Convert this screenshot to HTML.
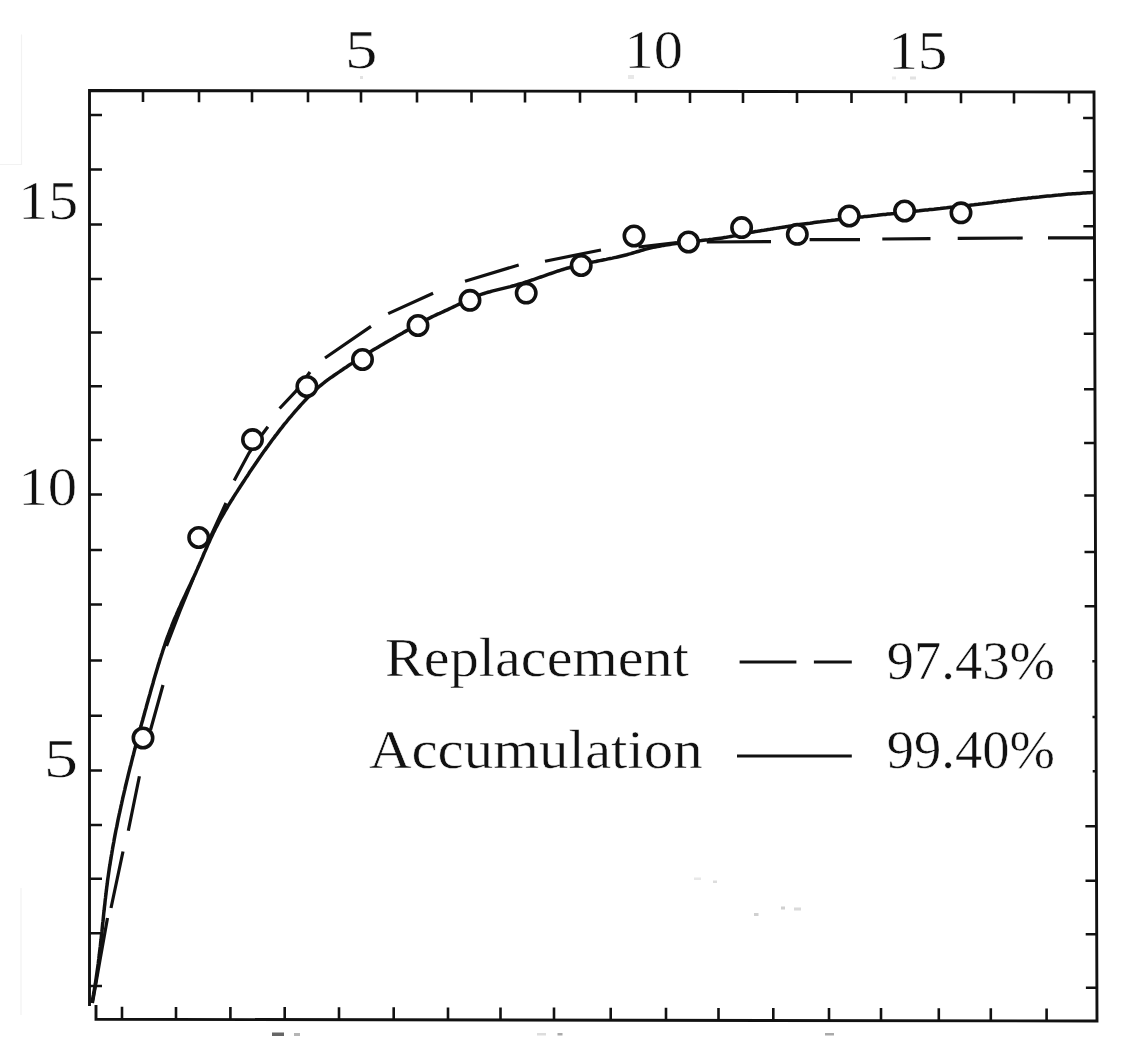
<!DOCTYPE html>
<html><head><meta charset="utf-8"><style>
html,body{margin:0;padding:0;background:#fff;}
svg{display:block;filter:blur(0.6px);}
text{font-family:"Liberation Serif",serif;fill:#111;stroke:#fff;stroke-width:0.5px;}
</style></head><body>
<svg width="1121" height="1040" viewBox="0 0 1121 1040">
<g fill="none" stroke="#111" stroke-width="2.9" stroke-linecap="butt">
<path d="M89.5,1006 V90.5 L1094,92 L1097,1021 L96,1019.3 V1005"/>
<path stroke-width="2.6" d="M143,90.6V102.1 M199,90.7V102.2 M252,90.7V102.2 M308,90.8V102.3 M361,90.9V102.4 M417,91.0V102.5 M471.5,91.1V102.6 M525,91.1V102.6 M580,91.2V102.7 M636,91.3V102.8 M690,91.4V102.9 M743,91.5V103.0 M797,91.6V103.1 M851.5,91.6V103.1 M906,91.7V103.2 M961,91.8V103.3 M1014,91.9V103.4 M1069,92.0V103.5 M122,1019.3V1006.8 M176,1019.4V1006.9 M230.4,1019.5V1007.0 M284.7,1019.6V1007.1 M339,1019.7V1007.2 M393.7,1019.8V1007.3 M448,1019.9V1007.4 M500.5,1020.0V1007.5 M554,1020.1V1007.6 M610.7,1020.2V1007.7 M666,1020.3V1007.8 M718.5,1020.4V1007.9 M773.3,1020.4V1007.9 M829,1020.5V1008.0 M881,1020.6V1008.1 M938.8,1020.7V1008.2 M990.8,1020.8V1008.3 M1046.6,1020.9V1008.4 M89.5,115H102 M89.5,169.5H102 M89.5,224.5H102 M89.5,279H102 M89.5,332.5H102 M89.5,386.25H102 M89.5,440H102 M89.5,494.5H102 M89.5,550H102 M89.5,604.5H102 M89.5,660.5H102 M89.5,715.75H102 M89.5,770.5H102 M89.5,825H102 M89.5,878.8H102 M89.5,933.2H102 M89.5,986H102 M1094.1,118H1083.1 M1094.3,171.25H1083.3 M1094.4,226.25H1083.4 M1094.6,280H1083.6 M1094.8,333.75H1083.8 M1095.0,389.25H1084.0 M1095.1,443H1084.1 M1095.3,495.5H1084.3 M1095.5,552H1084.5 M1095.7,606.25H1084.7 M1095.8,661.25H1092.3 M1096.0,717H1092.5 M1096.2,771.25H1092.7 M1096.4,826.25H1085.4 M1096.5,880.7H1085.5 M1096.7,934.2H1085.7 M1096.9,987.8H1085.9"/>
</g>
<g fill="none" stroke="#111" stroke-width="3.5">
<path d="M91.9,1003.0 L92.3,1000.9 L92.7,998.8 L93.1,996.7 L93.5,994.6 L93.8,992.6 L94.2,990.5 L94.6,988.4 L94.9,986.3 L95.3,984.2 L95.6,982.1 L95.9,980.0 L96.2,977.9 L96.5,975.8 L96.8,973.7 L97.1,971.6 L97.4,969.5 L97.7,967.4 L98.0,965.3 L98.3,963.2 L98.5,961.1 L98.8,959.0 L99.0,956.9 L99.3,954.8 L99.5,952.7 L99.8,950.6 L100.0,948.5 L100.3,946.4 L100.5,944.3 L100.7,942.2 L101.0,940.1 L101.2,938.0 L101.4,935.9 L101.6,933.8 L101.9,931.7 L102.1,929.6 L102.3,927.5 L102.5,925.4 L102.7,923.3 L103.0,921.2 L103.2,919.1 L103.4,917.0 L103.6,914.8 L103.8,912.7 L104.1,910.6 L104.3,908.5 L104.5,906.4 L104.8,904.3 L105.0,902.2 L105.2,900.1 L105.5,898.0 L105.7,895.9 L106.0,893.8 L106.2,891.7 L106.5,889.6 L106.7,887.5 L107.0,885.4 L107.3,883.3 L107.5,881.2 L107.8,879.1 L108.1,877.0 L108.4,874.9 L108.7,872.8 L109.0,870.7 L109.3,868.6 L109.6,866.5 L110.0,864.4 L110.3,862.3 L110.6,860.3 L111.0,858.2 L111.3,856.1 L111.7,854.0 L112.0,851.9 L112.4,849.8 L112.7,847.7 L113.1,845.6 L113.5,843.5 L113.9,841.5 L114.2,839.4 L114.6,837.3 L115.0,835.2 L115.4,833.1 L115.8,831.0 L116.2,829.0 L116.7,826.9 L117.1,824.8 L117.5,822.7 L117.9,820.6 L118.3,818.6 L118.8,816.5 L119.2,814.4 L119.7,812.4 L120.1,810.3 L120.6,808.2 L121.0,806.1 L121.5,804.1 L121.9,802.0 L122.4,799.9 L122.8,797.9 L123.3,795.8 L123.8,793.8 L124.3,791.7 L124.8,789.6 L125.2,787.6 L125.7,785.5 L126.2,783.5 L126.7,781.4 L127.2,779.3 L127.7,777.3 L128.2,775.2 L128.7,773.2 L129.2,771.1 L129.7,769.1 L130.2,767.0 L130.8,765.0 L131.3,762.9 L131.8,760.9 L132.3,758.8 L132.8,756.8 L133.4,754.7 L133.9,752.7 L134.4,750.6 L135.0,748.6 L135.5,746.5 L136.0,744.5 L136.6,742.4 L137.1,740.4 L137.7,738.4 L138.2,736.3 L138.8,734.3 L139.3,732.2 L139.9,730.2 L140.4,728.1 L141.0,726.1 L141.5,724.1 L142.1,722.0 L142.7,720.0 L143.2,717.9 L143.8,715.9 L144.4,713.8 L144.9,711.8 L145.5,709.8 L146.1,707.7 L146.6,705.7 L147.2,703.6 L147.8,701.6 L148.3,699.5 L148.9,697.5 L149.5,695.5 L150.1,693.4 L150.6,691.4 L151.2,689.3 L151.8,687.3 L152.4,685.3 L153.0,683.2 L153.5,681.2 L154.1,679.1 L154.7,677.1 L155.3,675.1 L155.9,673.0 L156.5,671.0 L157.1,669.0 L157.7,666.9 L158.3,664.9 L159.0,662.9 L159.6,660.8 L160.2,658.8 L160.9,656.8 L161.5,654.8 L162.2,652.8 L162.8,650.7 L163.5,648.7 L164.2,646.7 L164.8,644.7 L165.5,642.7 L166.2,640.7 L166.9,638.7 L167.6,636.7 L168.4,634.7 L169.1,632.8 L169.8,630.8 L170.6,628.8 L171.4,626.8 L172.1,624.9 L172.9,622.9 L173.7,621.0 L174.5,619.0 L175.3,617.1 L176.2,615.1 L177.0,613.2 L177.9,611.2 L178.7,609.3 L179.6,607.4 L180.5,605.5 L181.3,603.5 L182.2,601.6 L183.1,599.7 L184.0,597.8 L184.9,595.9 L185.8,593.9 L186.7,592.0 L187.6,590.1 L188.5,588.2 L189.4,586.3 L190.3,584.4 L191.2,582.4 L192.1,580.5 L193.0,578.6 L193.9,576.7 L194.8,574.7 L195.7,572.8 L196.5,570.9 L197.4,568.9 L198.2,567.0 L199.1,565.0 L199.9,563.1 L200.8,561.1 L201.6,559.2 L202.5,557.2 L203.3,555.3 L204.1,553.3 L205.0,551.4 L205.8,549.5 L206.7,547.5 L207.5,545.6 L208.4,543.6 L209.3,541.7 L210.1,539.8 L211.0,537.8 L211.9,535.9 L212.8,534.0 L213.7,532.1 L214.7,530.2 L215.6,528.3 L216.6,526.4 L217.5,524.6 L218.5,522.7 L219.5,520.8 L220.5,519.0 L221.6,517.1 L222.6,515.3 L223.7,513.5 L224.7,511.7 L225.8,509.8 L226.9,508.0 L227.9,506.2 L229.0,504.4 L230.1,502.6 L231.2,500.8 L232.4,499.0 L233.5,497.2 L234.6,495.4 L235.7,493.6 L236.9,491.9 L238.0,490.1 L239.2,488.3 L240.3,486.5 L241.5,484.7 L242.6,483.0 L243.8,481.2 L245.0,479.4 L246.1,477.6 L247.3,475.9 L248.5,474.1 L249.6,472.3 L250.8,470.6 L252.0,468.8 L253.2,467.1 L254.4,465.3 L255.6,463.5 L256.8,461.8 L258.0,460.0 L259.2,458.3 L260.4,456.6 L261.6,454.8 L262.8,453.1 L264.0,451.3 L265.3,449.6 L266.5,447.9 L267.8,446.2 L269.0,444.5 L270.3,442.7 L271.5,441.0 L272.8,439.3 L274.1,437.6 L275.3,435.9 L276.6,434.3 L277.9,432.6 L279.2,430.9 L280.5,429.2 L281.8,427.6 L283.1,425.9 L284.4,424.2 L285.8,422.6 L287.1,421.0 L288.4,419.3 L289.8,417.7 L291.2,416.1 L292.5,414.5 L293.9,412.8 L295.3,411.2 L296.7,409.7 L298.1,408.1 L299.5,406.5 L300.9,404.9 L302.3,403.4 L303.7,401.8 L305.2,400.2 L306.6,398.7 L308.1,397.2 L309.6,395.7 L311.0,394.2 L312.6,392.7 L314.1,391.2 L315.6,389.8 L317.2,388.4 L318.7,387.0 L320.4,385.6 L322.0,384.3 L323.6,383.0 L325.3,381.7 L327.0,380.4 L328.7,379.2 L330.4,377.9 L332.2,376.7 L333.9,375.5 L335.7,374.3 L337.4,373.1 L339.2,371.9 L340.9,370.7 L342.7,369.5 L344.4,368.3 L346.2,367.2 L347.9,366.0 L349.7,364.8 L351.5,363.6 L353.2,362.4 L355.0,361.3 L356.8,360.1 L358.6,359.0 L360.4,357.9 L362.2,356.7 L363.9,355.6 L365.7,354.5 L367.6,353.4 L369.4,352.3 L371.2,351.2 L373.0,350.1 L374.8,349.0 L376.6,348.0 L378.4,346.9 L380.3,345.8 L382.1,344.8 L383.9,343.7 L385.7,342.6 L387.6,341.6 L389.4,340.5 L391.2,339.5 L393.1,338.4 L394.9,337.4 L396.7,336.3 L398.6,335.3 L400.4,334.2 L402.3,333.2 L404.1,332.1 L405.9,331.1 L407.8,330.0 L409.6,329.0 L411.4,327.9 L413.3,326.9 L415.1,325.9 L417.0,324.8 L418.8,323.8 L420.7,322.8 L422.5,321.8 L424.4,320.8 L426.3,319.8 L428.1,318.8 L430.0,317.9 L431.9,316.9 L433.8,316.0 L435.7,315.1 L437.6,314.2 L439.6,313.4 L441.5,312.5 L443.4,311.6 L445.3,310.7 L447.3,309.8 L449.2,308.9 L451.1,308.0 L453.0,307.1 L454.9,306.2 L456.8,305.2 L458.7,304.3 L460.6,303.4 L462.5,302.4 L464.4,301.5 L466.4,300.6 L468.3,299.7 L470.2,298.8 L472.1,298.0 L474.1,297.1 L476.0,296.3 L478.0,295.6 L479.9,294.8 L481.9,294.1 L483.9,293.5 L485.9,292.8 L487.9,292.2 L490.0,291.7 L492.0,291.1 L494.0,290.6 L496.1,290.1 L498.1,289.6 L500.2,289.1 L502.3,288.6 L504.3,288.1 L506.4,287.6 L508.4,287.1 L510.5,286.6 L512.5,286.0 L514.6,285.5 L516.6,284.9 L518.6,284.3 L520.7,283.7 L522.7,283.1 L524.7,282.4 L526.7,281.8 L528.7,281.1 L530.8,280.4 L532.8,279.8 L534.8,279.1 L536.8,278.4 L538.8,277.7 L540.8,277.0 L542.8,276.3 L544.8,275.6 L546.8,274.8 L548.8,274.1 L550.8,273.5 L552.8,272.8 L554.8,272.1 L556.8,271.4 L558.8,270.8 L560.8,270.1 L562.8,269.5 L564.9,268.8 L566.9,268.2 L568.9,267.7 L571.0,267.1 L573.0,266.6 L575.1,266.0 L577.1,265.5 L579.2,265.0 L581.3,264.5 L583.3,264.1 L585.4,263.6 L587.5,263.2 L589.5,262.7 L591.6,262.3 L593.7,261.9 L595.8,261.5 L597.8,261.0 L599.9,260.6 L602.0,260.2 L604.1,259.8 L606.2,259.4 L608.2,258.9 L610.3,258.5 L612.4,258.1 L614.4,257.6 L616.5,257.2 L618.6,256.7 L620.6,256.2 L622.7,255.7 L624.7,255.2 L626.8,254.7 L628.8,254.1 L630.8,253.6 L632.8,253.0 L634.9,252.4 L636.9,251.8 L638.9,251.2 L640.9,250.6 L642.9,250.0 L645.0,249.4 L647.0,248.9 L649.0,248.4 L651.1,247.9 L653.1,247.4 L655.2,247.0 L657.3,246.6 L659.3,246.2 L661.4,245.8 L663.5,245.4 L665.6,245.1 L667.7,244.7 L669.8,244.4 L671.8,244.1 L673.9,243.8 L676.0,243.5 L678.2,243.3 L680.3,243.0 L682.4,242.7 L684.5,242.5 L686.6,242.2 L688.7,242.0 L690.8,241.7 L692.9,241.5 L695.0,241.3 L697.1,241.0 L699.3,240.8 L701.4,240.6 L703.5,240.3 L705.6,240.1 L707.7,239.9 L709.8,239.6 L711.9,239.4 L714.0,239.1 L716.1,238.8 L718.2,238.5 L720.3,238.2 L722.4,237.9 L724.4,237.6 L726.5,237.3 L728.6,236.9 L730.7,236.5 L732.7,236.1 L734.8,235.7 L736.9,235.3 L739.0,234.9 L741.0,234.5 L743.1,234.0 L745.2,233.6 L747.2,233.2 L749.3,232.8 L751.4,232.4 L753.5,232.0 L755.5,231.6 L757.6,231.3 L759.7,230.9 L761.8,230.6 L763.9,230.3 L766.0,229.9 L768.1,229.6 L770.1,229.3 L772.2,228.9 L774.3,228.6 L776.4,228.3 L778.5,227.9 L780.6,227.6 L782.7,227.2 L784.7,226.9 L786.8,226.6 L788.9,226.2 L791.0,225.9 L793.1,225.6 L795.2,225.3 L797.3,224.9 L799.4,224.6 L801.5,224.3 L803.6,224.0 L805.7,223.7 L807.8,223.4 L809.9,223.2 L812.0,222.9 L814.1,222.6 L816.1,222.3 L818.2,222.0 L820.3,221.8 L822.4,221.5 L824.5,221.2 L826.6,221.0 L828.7,220.7 L830.8,220.5 L832.9,220.2 L835.0,220.0 L837.1,219.7 L839.2,219.5 L841.4,219.2 L843.5,219.0 L845.6,218.8 L847.7,218.5 L849.8,218.3 L851.9,218.0 L854.0,217.8 L856.1,217.6 L858.2,217.3 L860.3,217.1 L862.4,216.9 L864.5,216.6 L866.6,216.4 L868.7,216.2 L870.8,216.0 L872.9,215.7 L875.0,215.5 L877.1,215.3 L879.2,215.0 L881.3,214.8 L883.4,214.6 L885.5,214.4 L887.6,214.1 L889.7,213.9 L891.8,213.7 L893.9,213.5 L896.1,213.2 L898.2,213.0 L900.3,212.8 L902.4,212.6 L904.5,212.3 L906.6,212.1 L908.7,211.9 L910.8,211.7 L912.9,211.4 L915.0,211.2 L917.1,211.0 L919.2,210.8 L921.3,210.5 L923.4,210.3 L925.5,210.1 L927.6,209.9 L929.7,209.6 L931.8,209.4 L933.9,209.2 L936.0,208.9 L938.1,208.7 L940.2,208.5 L942.3,208.2 L944.5,208.0 L946.6,207.8 L948.7,207.5 L950.8,207.3 L952.9,207.1 L955.0,206.8 L957.1,206.6 L959.2,206.4 L961.3,206.1 L963.4,205.9 L965.5,205.6 L967.6,205.4 L969.7,205.2 L971.8,204.9 L973.9,204.7 L976.0,204.4 L978.1,204.2 L980.2,203.9 L982.3,203.7 L984.4,203.4 L986.5,203.2 L988.6,202.9 L990.7,202.7 L992.8,202.4 L994.9,202.1 L997.0,201.9 L999.1,201.6 L1001.2,201.4 L1003.3,201.1 L1005.4,200.9 L1007.6,200.6 L1009.7,200.4 L1011.8,200.1 L1013.9,199.8 L1016.0,199.6 L1018.1,199.3 L1020.2,199.1 L1022.3,198.8 L1024.4,198.6 L1026.5,198.4 L1028.6,198.1 L1030.7,197.9 L1032.8,197.6 L1034.9,197.4 L1037.0,197.2 L1039.1,197.0 L1041.2,196.7 L1043.3,196.5 L1045.4,196.3 L1047.5,196.1 L1049.6,195.9 L1051.8,195.7 L1053.9,195.4 L1056.0,195.2 L1058.1,195.1 L1060.2,194.9 L1062.3,194.7 L1064.4,194.5 L1066.5,194.3 L1068.6,194.1 L1070.7,194.0 L1072.9,193.8 L1075.0,193.7 L1077.1,193.5 L1079.2,193.4 L1081.3,193.2 L1083.4,193.1 L1085.5,193.0 L1087.7,192.8 L1089.8,192.7 L1091.9,192.6 L1094.0,192.5"/>
<path stroke-width="3.2" d="M92.5,1003 L100,960 L107.5,918 M111,908 L123,851.5 M128.3,830.7 L139.4,776.2 M150.5,730 L163,685 M166.5,646 L180,611 L193.5,578 M209,540 L226,503 M234.2,480.6 L249,453 L258,440 L267.9,426.7 M279.6,408.5 L295.7,391.4 L310,372 M325,358 L371,326.4 M388.2,313.6 L433.1,293.2 M465,281.2 L518.7,265 M545,261.2 L601,250 M638.5,247 L677,242.5 M706.8,242 L771,241.6 M809.6,239.6 L860,239.6 M882.3,239 L930.5,238.6 M957.7,238.4 L1022.7,238 M1048,237.9 L1094,237.8"/>
</g>
<g fill="#fff" stroke="#111" stroke-width="3.6"><circle cx="143" cy="738" r="9.7"/><circle cx="198.7" cy="537.5" r="9.7"/><circle cx="252.5" cy="439.6" r="9.7"/><circle cx="306.9" cy="386.5" r="9.7"/><circle cx="362.5" cy="359.5" r="9.7"/><circle cx="418" cy="325.5" r="9.7"/><circle cx="470" cy="300.3" r="9.7"/><circle cx="526.2" cy="293.1" r="9.7"/><circle cx="581.2" cy="265.5" r="9.7"/><circle cx="634" cy="236" r="9.7"/><circle cx="688.5" cy="242" r="9.7"/><circle cx="741.6" cy="227.6" r="9.7"/><circle cx="797.3" cy="234.3" r="9.7"/><circle cx="849.2" cy="216" r="9.7"/><circle cx="904.6" cy="211" r="9.7"/><circle cx="961" cy="212.8" r="9.7"/></g>
<g fill="none" stroke="#f2f2f2" stroke-width="1.2"><path d="M0,164.5H21.5V34.5M21,888V1015"/></g>
<g stroke="none"><rect x="360" y="76" width="3" height="3" fill="#e2e2e2"/><rect x="628" y="75" width="6" height="4" fill="#e8e8e8"/><rect x="892" y="76.5" width="4" height="3" fill="#eee"/><rect x="910" y="76.5" width="6" height="3" fill="#e2e2e2"/>
<rect x="272" y="1032.5" width="12" height="3.5" fill="#666"/><rect x="294" y="1033" width="6" height="3" fill="#b5b5b5"/>
<rect x="537" y="1033" width="9" height="2.5" fill="#ddd"/><rect x="557.5" y="1033" width="5" height="2.5" fill="#aaa"/><rect x="825" y="1033" width="9" height="2.5" fill="#aaa"/>
<rect x="694" y="877.5" width="7" height="2.5" fill="#e8e8e8"/><rect x="713" y="880.5" width="4" height="2.5" fill="#ddd"/><rect x="754" y="913" width="4.5" height="3" fill="#d0d0d0"/>
<rect x="781" y="906.5" width="4" height="3" fill="#d0d0d0"/><rect x="794" y="907.5" width="7" height="3" fill="#dadada"/></g>
<text id="t5" x="349" y="68" font-size="55" transform="matrix(1.1810,0,0,1,-67.18,0)">5</text><text id="t10" x="628" y="68" font-size="55" transform="matrix(1.0625,0,0,1,-42.66,0)">10</text><text id="t15" x="892" y="69" font-size="55" transform="matrix(1.0766,0,0,1,-72.11,0)">15</text><text id="l15" x="22" y="219" font-size="55" transform="matrix(1.0904,0,0,1,-5.69,0)">15</text><text id="l10" x="22" y="505" font-size="55" transform="matrix(1.0677,0,0,1,-5.08,0)">10</text><text id="l5" x="48" y="777.5" font-size="55" transform="matrix(1.2500,0,0,1,-16.25,0)">5</text><text id="rep" x="386" y="676.5" font-size="54.5" transform="matrix(1.0684,0,0,1,-27.35,0)">Replacement</text><text id="acc" x="369" y="768.3" font-size="54.5" transform="matrix(1.0817,0,0,1,-30.23,0)">Accumulation</text><text id="p1" x="887" y="679" font-size="55" transform="matrix(0.9921,0,0,1,6.80,0)">97.43%</text><text id="p2" x="887" y="768.5" font-size="55" transform="matrix(0.9921,0,0,1,6.80,0)">99.40%</text>
<g stroke="#111" stroke-width="3" fill="none">
<path d="M739.6,662H796.4M813.9,662H851.8M737,756H851.8"/>
</g>
</svg>
</body></html>
